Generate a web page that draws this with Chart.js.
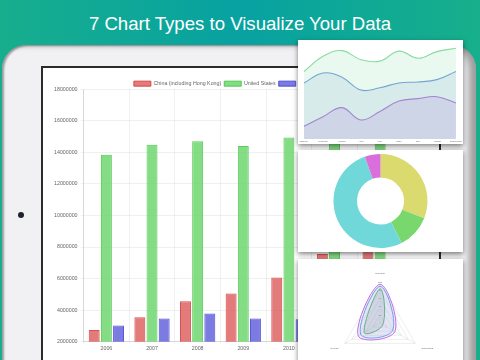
<!DOCTYPE html>
<html>
<head>
<meta charset="utf-8">
<script src="https://cdn.jsdelivr.net/npm/chart.js@4.4.1/dist/chart.umd.min.js"></script>
<style>
  html, body { margin: 0; padding: 0; }
  body {
    width: 480px; height: 360px; overflow: hidden; position: relative;
    background: linear-gradient(90deg, #17ae8d 0%, #07a2a1 50%, #17af8b 100%);
    font-family: "Liberation Sans", Arial, sans-serif;
  }
  #title {
    position: absolute; left: 0; top: 13px; width: 480px; text-align: center;
    color: #fff; font-size: 18.6px;
  }
  #tablet {
    position: absolute; left: 2px; top: 45px; width: 474px; height: 360px;
    background: #f1f1f3; border-radius: 24px;
    box-shadow: inset 2px 1px 2px rgba(0,0,0,0.35), inset -7px 0 6px rgba(0,0,0,0.35);
  }
  #camera {
    position: absolute; left: 18px; top: 212px; width: 6px; height: 6px;
    border-radius: 50%; background: #1d2230;
  }
  #screen {
    position: absolute; left: 41px; top: 66px; width: 400px; height: 300px;
    background: #fff; border: 2px solid #2b2b2b; box-sizing: border-box;
  }
  .card {
    position: absolute; left: 298px; width: 165px; background: #fff;
    box-shadow: 0 2px 5px rgba(0,0,0,0.5);
  }
  canvas { display: block; }
</style>
</head>
<body>
<div id="title">7 Chart Types to Visualize Your Data</div>
<div id="tablet"></div>
<div id="camera"></div>
<div id="screen"></div>
<canvas id="barChart" width="352" height="284" style="position:absolute;left:51px;top:70px;"></canvas>
<div class="card" style="top:40px;height:104px;"><canvas id="lineChart" width="165" height="104"></canvas></div>
<div class="card" style="top:150px;height:102px;"><canvas id="pieChart" width="165" height="102"></canvas></div>
<div class="card" style="top:259px;height:110px;"><canvas id="radarChart" width="165" height="114"></canvas></div>

<script>
// bar chart data (GDP, millions of US$)
const years = ['2006', '2007', '2008', '2009', '2010', '2011', '2012'];
const china = [2740000, 3540000, 4560000, 5050000, 6060000, 7550000, 8530000];
const usa = [13850000, 14490000, 14700000, 14400000, 14950000, 15500000, 16160000];
const germany = [3020000, 3460000, 3780000, 3460000, 3420000, 3750000, 3530000];

// line chart data
const lineLabels = ['January', 'February', 'March', 'April', 'May', 'June', 'July', 'August', 'September'];
const lineGreen = [71, 87, 93, 83.5, 82, 92.5, 85, 92, 95.5];
const lineBlue = [59, 69.5, 65, 51.5, 54, 59, 60, 62.5, 71];
const linePurple = [13.5, 23.5, 33, 20, 29, 40, 42.5, 44.5, 38];

// doughnut data
const pieLabels = ['Yellow', 'Green', 'Cyan', 'Magenta'];
const pieValues = [31, 11.6, 52, 5.4];

// radar data
const radarLabels = ['Running', 'Swimming', 'Cycling'];
const radarPurple = [95, 42, 62];
const radarBlue = [90, 36, 55];
const radarGreen = [84, 8, 45];

Chart.defaults.font.family = '"Liberation Sans", Arial, sans-serif';
Chart.defaults.color = '#666';
Chart.defaults.animation = false;
Chart.defaults.responsive = false;

// pull the plot up closer to the legend
const legendGap = {
    id: 'legendGap',
    beforeInit(chart) {
        const fit = chart.legend.fit;
        chart.legend.fit = function () {
            fit.bind(chart.legend)();
            this.height -= 7;
        };
    }
};

new Chart(document.getElementById('barChart'), {
    type: 'bar',
    data: {
        labels: years,
        datasets: [{
            label: 'China (including Hong Kong)',
            data: china,
            backgroundColor: 'rgba(220,90,90,0.8)',
            borderColor: 'rgba(215,60,60,0.9)',
            borderWidth: 1
        }, {
            label: 'United States',
            data: usa,
            backgroundColor: 'rgba(110,215,110,0.85)',
            borderColor: 'rgba(70,200,70,0.9)',
            borderWidth: 1
        }, {
            label: 'Germany',
            data: germany,
            backgroundColor: 'rgba(100,100,220,0.85)',
            borderColor: 'rgba(70,70,215,0.9)',
            borderWidth: 1
        }]
    },
    options: {
        layout: { padding: { top: 8 } },
        plugins: {
            legend: {
                labels: { boxWidth: 17, boxHeight: 5, font: { size: 5.3 }, padding: 3 }
            },
            tooltip: { enabled: false }
        },
        scales: {
            y: {
                min: 2000000,
                max: 18000000,
                ticks: { stepSize: 2000000, font: { size: 5.3 }, callback: v => String(v) },
                grid: { color: 'rgba(0,0,0,0.06)', tickLength: 3 }
            },
            x: {
                ticks: { font: { size: 5.3 }, padding: 2 },
                grid: { color: 'rgba(0,0,0,0.06)', tickLength: 2 }
            }
        }
    },
    plugins: [legendGap]
});

new Chart(document.getElementById('lineChart'), {
    type: 'line',
    data: {
        labels: lineLabels,
        datasets: [{
            data: lineGreen,
            borderColor: 'rgb(135,220,160)',
            backgroundColor: 'rgba(150,225,175,0.2)',
            fill: 'origin'
        }, {
            data: lineBlue,
            borderColor: 'rgb(105,150,220)',
            backgroundColor: 'rgba(134,164,220,0.2)',
            fill: 'origin'
        }, {
            data: linePurple,
            borderColor: 'rgb(175,95,215)',
            backgroundColor: 'rgba(195,125,230,0.25)',
            fill: 'origin'
        }]
    },
    options: {
        layout: { padding: { left: 6, right: 6, top: 4, bottom: 0 } },
        elements: { line: { borderWidth: 1.1, tension: 0.4 }, point: { radius: 0 } },
        plugins: { legend: { display: false }, tooltip: { enabled: false } },
        scales: {
            y: { display: false, min: 0, max: 100 },
            x: {
                ticks: { font: { size: 2.5 }, maxRotation: 0, padding: 1 },
                grid: { display: false, drawTicks: false },
                border: { display: false }
            }
        }
    }
});

new Chart(document.getElementById('pieChart'), {
    type: 'doughnut',
    data: {
        labels: pieLabels,
        datasets: [{
            data: pieValues,
            backgroundColor: ['rgb(218,218,110)', 'rgb(120,216,110)', 'rgb(112,216,216)', 'rgb(218,110,218)'],
            borderWidth: 0
        }]
    },
    options: {
        cutout: '50%',
        layout: { padding: 4 },
        plugins: { legend: { display: false }, tooltip: { enabled: false } }
    }
});

new Chart(document.getElementById('radarChart'), {
    type: 'radar',
    data: {
        labels: radarLabels,
        datasets: [{
            data: radarPurple,
            borderColor: 'rgb(190,110,230)',
            backgroundColor: 'rgba(190,130,230,0.12)',
            fill: true
        }, {
            data: radarBlue,
            borderColor: 'rgb(100,165,225)',
            backgroundColor: 'rgba(100,160,210,0.15)',
            fill: true
        }, {
            data: radarGreen,
            borderColor: 'rgb(90,185,100)',
            backgroundColor: 'rgba(110,150,120,0.18)',
            fill: true
        }]
    },
    options: {
        layout: { padding: { left: 20, right: 20, top: 10, bottom: 2 } },
        elements: { line: { borderWidth: 1, tension: 0.4 }, point: { radius: 0 } },
        plugins: { legend: { display: false }, tooltip: { enabled: false } },
        scales: {
            r: {
                min: 0,
                max: 100,
                ticks: { stepSize: 20, font: { size: 2.5 }, backdropPadding: 1 },
                pointLabels: { font: { size: 2.5 } },
                grid: { color: 'rgba(0,0,0,0.07)' },
                angleLines: { color: 'rgba(0,0,0,0.07)' }
            }
        }
    }
});
</script>
</body>
</html>
